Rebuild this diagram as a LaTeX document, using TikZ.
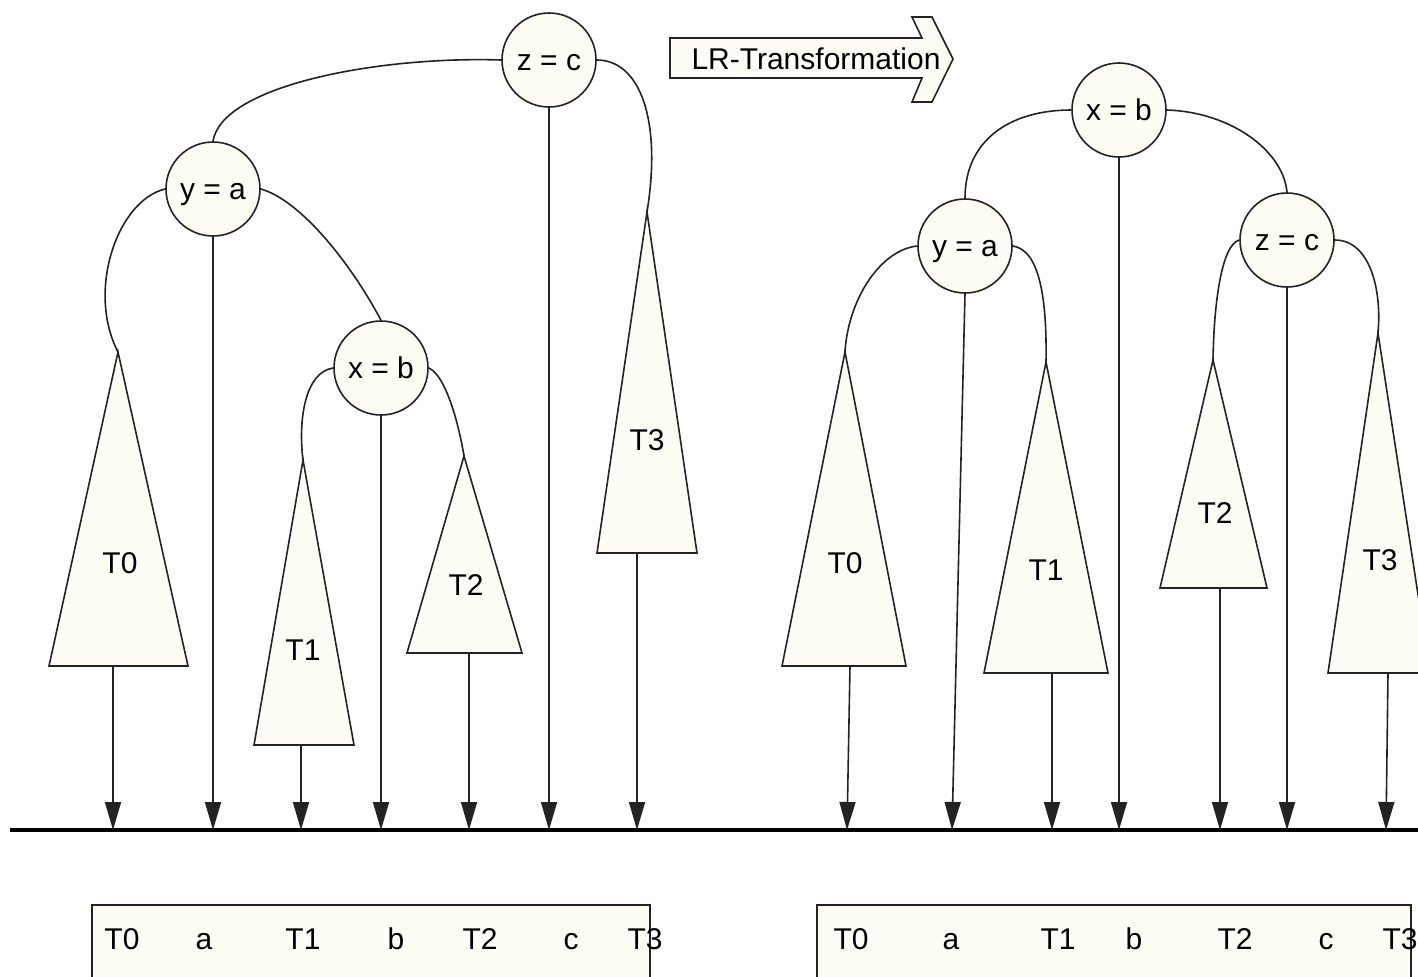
\documentclass[tikz,border=0pt]{standalone}
\usepackage{fontspec}
\setmainfont{Liberation Sans}
\usetikzlibrary{arrows.meta}
\definecolor{cream}{RGB}{253,253,246}
\definecolor{ink}{RGB}{35,35,35}
\begin{document}
\begin{tikzpicture}[x=0.5pt,y=-0.5pt,
  every node/.style={font=\fontsize{15}{18}\selectfont,text height=10.8pt,text depth=0pt},
  keynode/.style={circle,draw=ink,fill=cream,line width=0.8pt,minimum size=47pt,inner sep=0pt},
  edge/.style={draw=ink,line width=0.8pt},
  subtree/.style={draw=ink,fill=cream,line width=0.8pt},
  down/.style={draw=ink,line width=0.8pt,-{Triangle[length=14pt,width=8pt]}},
  seqbox/.style={draw=ink,fill=cream,line width=0.8pt},
  lbl/.style={inner sep=0pt}]
\clip (0,0) rectangle (1418,976);

% ---------- axis ----------
\coordinate (axL) at (10,830);
\coordinate (axR) at (1418,830);
\draw[line width=2pt,black] (axL) -- (axR);

% ---------- transformation arrow ----------
\draw[subtree] (670,38) -- (922,38) -- (912,17) -- (932,17) -- (953,59)
  -- (932,102) -- (912,102) -- (922,78) -- (670,78) -- cycle;
\node[lbl] (lr) at (816,59) {LR-Transformation};

% ---------- left tree: subtrees ----------
\coordinate (lT0a) at (118,352); \coordinate (lT0b) at (113,666);
\draw[subtree] (lT0a) -- (188,666) -- (49,666) -- cycle;
\node[lbl] (lT0) at (120,563) {T0};
\coordinate (lT1a) at (303,460); \coordinate (lT1b) at (301,745);
\draw[subtree] (lT1a) -- (354,745) -- (254,745) -- cycle;
\node[lbl] (lT1) at (303,650) {T1};
\coordinate (lT2a) at (464,456); \coordinate (lT2b) at (469,653);
\draw[subtree] (lT2a) -- (522,653) -- (407,653) -- cycle;
\node[lbl] (lT2) at (466,585) {T2};
\coordinate (lT3a) at (647,212); \coordinate (lT3b) at (637,553);
\draw[subtree] (lT3a) -- (697,553) -- (597,553) -- cycle;
\node[lbl] (lT3) at (647,440) {T3};

% ---------- left tree: keys ----------
\node[keynode] (lz) at (549,60) {z = c};
\node[keynode] (ly) at (213,189) {y = a};
\node[keynode] (lx) at (381,368) {x = b};

\draw[edge] (lz.west) .. controls (380,56) and (222,85) .. (ly.north);
\draw[edge] (lz.east) .. controls (640,60) and (662,120) .. (lT3a);
\draw[edge] (ly.west) .. controls (118,200) and (86,290) .. (lT0a);
\draw[edge] (ly.east) .. controls (300,200) and (350,262) .. (lx.north);
\draw[edge] (lx.west) .. controls (305,372) and (298,420) .. (lT1a);
\draw[edge] (lx.east) .. controls (445,375) and (458,420) .. (lT2a);

% ---------- left tree: projections ----------
\coordinate (pl1) at (113,830); \coordinate (pl2) at (213,830);
\coordinate (pl3) at (301,830); \coordinate (pl4) at (381,830);
\coordinate (pl5) at (469,830); \coordinate (pl6) at (549,830);
\coordinate (pl7) at (637,830);
\draw[down] (lT0b) -- (pl1);
\draw[down] (ly.south) -- (pl2);
\draw[down] (lT1b) -- (pl3);
\draw[down] (lx.south) -- (pl4);
\draw[down] (lT2b) -- (pl5);
\draw[down] (lz.south) -- (pl6);
\draw[down] (lT3b) -- (pl7);

% ---------- right tree: subtrees ----------
\coordinate (rT0a) at (845,352); \coordinate (rT0b) at (850,666);
\draw[subtree] (rT0a) -- (906,666) -- (782,666) -- cycle;
\node[lbl] (rT0) at (845,563) {T0};
\coordinate (rT1a) at (1046,362); \coordinate (rT1b) at (1052,673);
\draw[subtree] (rT1a) -- (1108,673) -- (984,673) -- cycle;
\node[lbl] (rT1) at (1046,570) {T1};
\coordinate (rT2a) at (1213,360); \coordinate (rT2b) at (1220,588);
\draw[subtree] (rT2a) -- (1267,588) -- (1160,588) -- cycle;
\node[lbl] (rT2) at (1215,513) {T2};
\coordinate (rT3a) at (1378,333); \coordinate (rT3b) at (1388,673);
\draw[subtree] (rT3a) -- (1430,673) -- (1328,673) -- cycle;
\node[lbl] (rT3) at (1380,560) {T3};

% ---------- right tree: keys ----------
\node[keynode] (rx) at (1119,110) {x = b};
\node[keynode] (ry) at (965,246) {y = a};
\node[keynode] (rz) at (1287,240) {z = c};

\draw[edge] (rx.west) .. controls (1010,110) and (965,140) .. (ry.north);
\draw[edge] (rx.east) .. controls (1230,112) and (1283,150) .. (rz.north);
\draw[edge] (ry.west) .. controls (880,250) and (848,300) .. (rT0a);
\draw[edge] (ry.east) .. controls (1040,250) and (1047,300) .. (rT1a);
\draw[edge] (rz.west) .. controls (1222,245) and (1214,300) .. (rT2a);
\draw[edge] (rz.east) .. controls (1370,240) and (1382,290) .. (rT3a);

% ---------- right tree: projections ----------
\coordinate (pr1) at (847,830); \coordinate (pr2) at (952,830);
\coordinate (pr3) at (1052,830); \coordinate (pr4) at (1119,830);
\coordinate (pr5) at (1220,830); \coordinate (pr6) at (1287,830);
\coordinate (pr7) at (1386,830);
\draw[down] (rT0b) -- (pr1);
\draw[down] (ry.south) -- (pr2);
\draw[down] (rT1b) -- (pr3);
\draw[down] (rx.south) -- (pr4);
\draw[down] (rT2b) -- (pr5);
\draw[down] (rz.south) -- (pr6);
\draw[down] (rT3b) -- (pr7);

% ---------- in-order sequences ----------
\draw[seqbox] (92,905) rectangle (650,995);
\node[lbl] (sl1) at (122,939) {T0};
\node[lbl] (sl2) at (204,939) {a};
\node[lbl] (sl3) at (303,939) {T1};
\node[lbl] (sl4) at (396,939) {b};
\node[lbl] (sl5) at (480,939) {T2};
\node[lbl] (sl6) at (571,939) {c};
\node[lbl] (sl7) at (645,939) {T3};

\draw[seqbox] (817,905) rectangle (1411,995);
\node[lbl] (sr1) at (851,939) {T0};
\node[lbl] (sr2) at (951,939) {a};
\node[lbl] (sr3) at (1058,939) {T1};
\node[lbl] (sr4) at (1134,939) {b};
\node[lbl] (sr5) at (1235,939) {T2};
\node[lbl] (sr6) at (1326,939) {c};
\node[lbl] (sr7) at (1400,939) {T3};
\end{tikzpicture}
\end{document}
